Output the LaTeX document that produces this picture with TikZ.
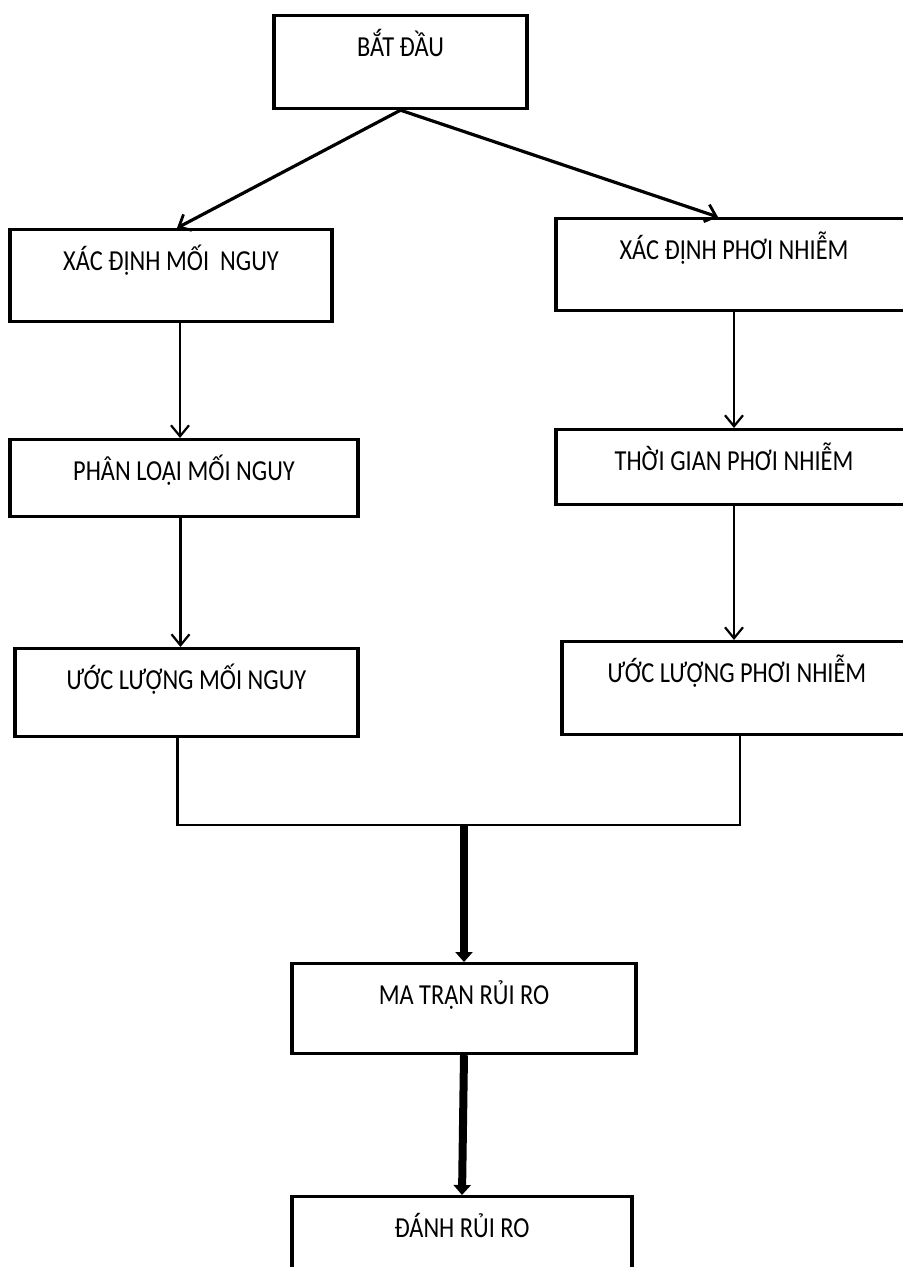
\documentclass[tikz,border=0pt]{standalone}
\usepackage{fontspec}
\setmainfont{Carlito}
\usepackage{graphicx}
\usetikzlibrary{arrows.meta,calc}
\newcommand\stagefont{\fontsize{14.5}{16}\selectfont}
\newcommand\narrow[1]{\scalebox{0.84}[1]{#1}}
\tikzset{
  stage/.style ={draw, line width=1.6pt, inner sep=0pt, text height=20.5pt,
                 anchor=north, font=\stagefont},
  fork/.style  ={line width=1.6pt, -{Straight Barb[length=5pt,width=9pt,line width=1.4pt]}},
  flow/.style  ={line width=1.1pt, -{Straight Barb[length=5.5pt,width=9pt,line width=1.1pt]}},
  link/.style  ={line width=1.1pt},
  heavy/.style ={line width=4pt, -{Triangle[length=5pt,width=8.5pt]}},
}

\begin{document}
\begin{tikzpicture}[x=0.5pt,y=-0.5pt]
  \useasboundingbox (0,0) rectangle (903,1267);
  \fill[white] (0,0) rectangle (903,1267);
  \clip (0,0) rectangle (903,1267);

  % top
  \node[stage, minimum width=126.5pt, text depth=26pt] (start) at (400.5,14) {\narrow{BẮT ĐẦU}};

  % left
  \node[stage, minimum width=161pt, text depth=25.5pt] (hazid)  at (171,228)   {\narrow{XÁC ĐỊNH MỐI\ \ NGUY}};
  \node[stage, minimum width=174pt, text depth=18pt]   (hazcls) at (184,438)   {\narrow{PHÂN LOẠI MỐI NGUY}};
  \node[stage, minimum width=171.5pt, text depth=23.5pt] (hazest) at (186.5,647) {\narrow{ƯỚC LƯỢNG MỐI NGUY}};

  % right
  \node[stage, minimum width=178pt, text depth=25.5pt] (expid)   at (734,217) {\narrow{XÁC ĐỊNH PHƠI NHIỄM}};
  \node[stage, minimum width=178pt, text depth=17pt]   (exptime) at (734,428) {\narrow{THỜI GIAN PHƠI NHIỄM}};
  \node[stage, minimum width=175pt, text depth=26pt]   (expest)  at (737,640) {\narrow{ƯỚC LƯỢNG PHƠI NHIỄM}};

  % bottom
  \node[stage, minimum width=172pt, text depth=24.5pt] (matrix) at (464,962)  {\narrow{MA TRẬN RỦI RO}};
  \node[stage, minimum width=170pt, text depth=29.5pt] (final)  at (462,1195) {\narrow{ĐÁNH RỦI RO}};

  % arrows
  \draw[fork] (start.south) -- ([xshift=3pt]hazid.north);
  \draw[fork] (start.south) -- ([xshift=-8pt]expid.north);

  \draw[flow] ([xshift=-2pt]hazcls.north |- hazid.south) -- ([xshift=-2pt]hazcls.north);
  \draw[flow] ([xshift=-3pt]hazest.north |- hazcls.south) -- ([xshift=-3pt]hazest.north);
  \draw[flow] (exptime.north |- expid.south) -- (exptime.north);
  \draw[flow] ([xshift=-1.5pt]expest.north |- exptime.south) -- ([xshift=-1.5pt]expest.north);

  \coordinate (join) at (464,825);
  \draw[link] ([xshift=-4.5pt]hazest.south) |- (join) -| ([xshift=1.5pt]expest.south);

  \draw[heavy] (join) -- (matrix.north);
  \draw[heavy] (matrix.south) -- (final.north);
\end{tikzpicture}
\end{document}
